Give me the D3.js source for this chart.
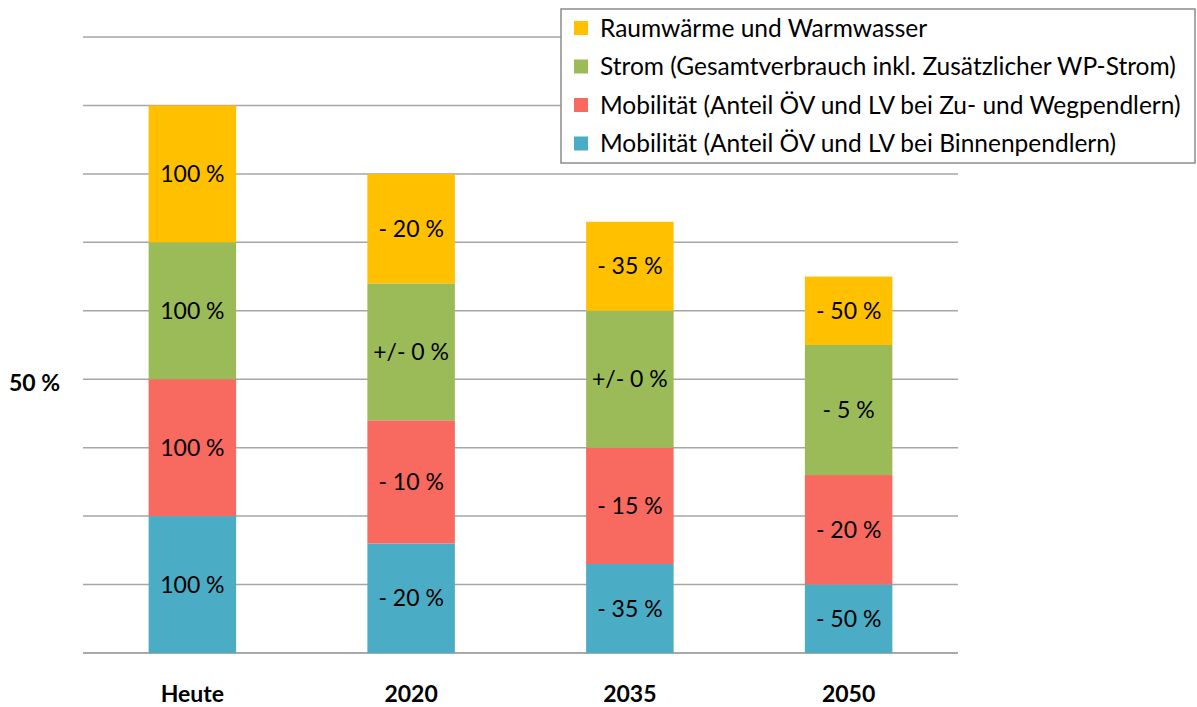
<!DOCTYPE html>
<html>
<head>
<meta charset="utf-8">
<script src="https://cdn.jsdelivr.net/npm/d3@7"></script>
<style>
  body { margin: 0; background: #fff; }
  text { font-family: Lato, "Noto Sans", sans-serif; fill: #000; }
</style>
</head>
<body>
<div id="chart"></div>
<script>
const categories = ["Heute", "2020", "2035", "2050"]
const seriesNames = [
  "Mobilität (Anteil ÖV und LV bei Binnenpendlern)",
  "Mobilität (Anteil ÖV und LV bei Zu- und Wegpendlern)",
  "Strom (Gesamtverbrauch inkl. Zusätzlicher WP-Strom)",
  "Raumwärme und Warmwasser",
]
// share of total "Heute" (each segment 25 % today)
const binnen = [25, 20, 16.25, 12.5]
const zuWeg = [25, 22.5, 21.25, 20]
const strom = [25, 25, 25, 23.75]
const waerme = [25, 20, 16.25, 12.5]
const binnenLabels = ["100 %", "- 20 %", "- 35 %", "- 50 %"]
const zuWegLabels = ["100 %", "- 10 %", "- 15 %", "- 20 %"]
const stromLabels = ["100 %", "+/- 0 %", "+/- 0 %", "- 5 %"]
const waermeLabels = ["100 %", "- 20 %", "- 35 %", "- 50 %"]
const yTicks = [50]
const colors = ["#4BACC6", "#F8695F", "#9BBB59", "#FFC000"]

const series = [binnen, zuWeg, strom, waerme]
const labels = [binnenLabels, zuWegLabels, stromLabels, waermeLabels]

const width = 1197, height = 707
const margin = { top: 37, right: 239, bottom: 54, left: 83 }

const svg = d3.select("#chart").append("svg")
  .attr("width", width).attr("height", height)

const x = d3.scaleBand().domain(categories)
  .range([margin.left, width - margin.right]).paddingInner(0.6).paddingOuter(0.3)
const y = d3.scaleLinear().domain([0, 112.5])
  .range([height - margin.bottom, margin.top])

// gridlines
svg.append("g")
  .selectAll("line")
  .data(d3.range(0, 112.5 + 0.01, 12.5))
  .join("line")
  .attr("x1", margin.left).attr("x2", width - margin.right)
  .attr("y1", (d) => y(d)).attr("y2", (d) => y(d))
  .attr("stroke", (d) => (d === 0 ? "#8c8c8c" : "#a6a6a6"))
  .attr("stroke-width", 1.5)

// stacked data
const table = categories.map((c, i) => {
  const row = { cat: c }
  series.forEach((s, k) => (row["s" + k] = s[i]))
  return row
})
const stack = d3.stack().keys(series.map((s, k) => "s" + k))(table)

const layers = svg.append("g").selectAll("g")
  .data(stack)
  .join("g")
  .attr("fill", (d, k) => colors[k])

layers.selectAll("rect")
  .data((d) => d)
  .join("rect")
  .attr("x", (d) => x(d.data.cat))
  .attr("width", x.bandwidth())
  .attr("y", (d) => y(d[1]))
  .attr("height", (d) => y(d[0]) - y(d[1]))

layers.each(function (layer, k) {
  d3.select(this).selectAll("text")
    .data(layer)
    .join("text")
    .attr("x", (d) => x(d.data.cat) + x.bandwidth() / 2)
    .attr("y", (d) => y((d[0] + d[1]) / 2))
    .attr("dy", "0.35em")
    .attr("text-anchor", "middle")
    .style("font-size", "23px")
    .text((d, i) => labels[k][i])
})

// y axis label
const yAxis = svg.append("g")
  .attr("transform", `translate(${margin.left - 20},0)`)
  .call(d3.axisLeft(y).tickValues(yTicks).tickSize(0).tickFormat((d) => d + " %"))
yAxis.select(".domain").remove()
yAxis.selectAll("text")
  .attr("dy", "0.5em")
  .style("font-size", "23px").style("font-weight", "bold")
  .attr("font-family", null).attr("fill", "#000")

// x axis labels
const xAxis = svg.append("g")
  .attr("transform", `translate(0,${height - margin.bottom})`)
  .call(d3.axisBottom(x).tickSize(0).tickPadding(33))
xAxis.select(".domain").remove()
xAxis.selectAll("text")
  .style("font-size", "23px").style("font-weight", "bold")
  .attr("font-family", null).attr("fill", "#000")

// legend
const legend = svg.append("g").attr("transform", "translate(561,9)")
legend.append("rect")
  .attr("width", 634).attr("height", 154)
  .attr("fill", "#fff").attr("stroke", "#8c8c8c").attr("stroke-width", 1.5)

const legendOrder = [3, 2, 1, 0]
const items = legend.selectAll(".item")
  .data(legendOrder)
  .join("g")
  .attr("class", "item")
  .attr("transform", (d, i) => `translate(13,${19 + i * 38.5})`)
items.append("rect")
  .attr("y", -7).attr("width", 14).attr("height", 14)
  .attr("fill", (k) => colors[k])
items.append("text")
  .attr("x", 26).attr("dy", "0.35em")
  .style("font-size", "24.5px")
  .text((k) => seriesNames[k])
</script>
</body>
</html>
